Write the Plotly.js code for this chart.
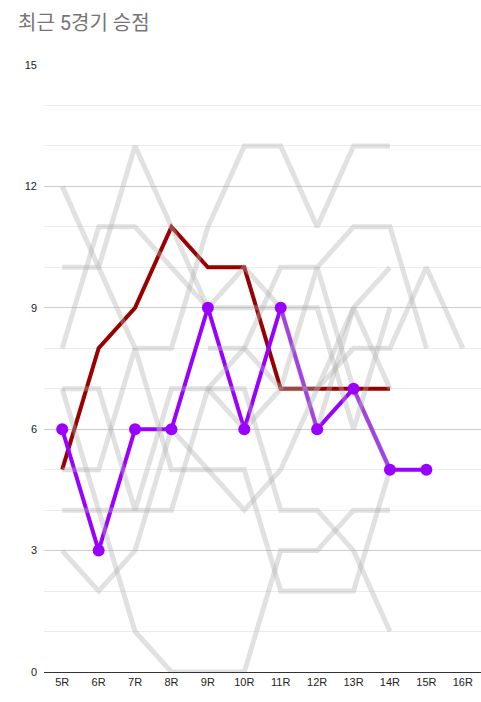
<!DOCTYPE html>
<html><head><meta charset="utf-8">
<script src="https://cdn.plot.ly/plotly-3.0.1.min.js"></script>
<style>html,body{margin:0;padding:0;background:#fff}#chart{width:481px;height:702px}</style>
</head><body><div id="chart"></div>
<script>
const rounds = ['5R','6R','7R','8R','9R','10R','11R','12R','13R','14R','15R','16R'];
const yTicks = [0,3,6,9,12,15];
const redTeam = [5,8,9,11,10,10,7,7,7,7];
const purpleTeam = [6,3,6,6,9,6,9,6,7,5,5];
const gray1 = [12,10,8,8,11,13,13,11,13,13];
const gray2 = [10,10,13,11,9,10,9,6,9,10];
const gray3 = [8,11,11,10,9,9,9,9,6,9];
const gray4 = [7,7,4,7,7,8,10,10,11,11,8];
const gray5 = [5,5,8,5,5,5,2,2,2,5];
const gray6 = [4,4,4,4,7,7,4,4,3,1];
const gray7 = [3,2,3,6,5,4,5,7,9,7];
const gray8 = [7,4,1,0,0,0,3,3,4,4];
const gray9 = [null,null,null,null,8,8,7,10,7,5];
const gray10 = [null,null,null,null,7,6,7,7,8,8,10,8];
const grays = [gray1,gray2,gray3,gray4,gray5,gray6,gray7,gray8,gray9,gray10];

const traces = [];
traces.push({x: rounds.slice(0, redTeam.length), y: redTeam, mode:'lines', line:{color:'#990000', width:4}, hoverinfo:'skip'});
traces.push({x: rounds.slice(0, purpleTeam.length), y: purpleTeam, mode:'lines', line:{color:'#9900ff', width:4}, hoverinfo:'skip'});
grays.forEach(g => traces.push({x: rounds.slice(0, g.length), y: g, mode:'lines', connectgaps:false,
  line:{color:'rgba(175,175,175,0.38)', width:5}, hoverinfo:'skip'}));
traces.push({x: rounds.slice(0, purpleTeam.length), y: purpleTeam, mode:'markers', marker:{color:'#9900ff', size:12}, hoverinfo:'skip'});

const layout = {
  width:481, height:702,
  margin:{l:44, r:0, t:65, b:30},
  paper_bgcolor:'#fff', plot_bgcolor:'#fff',
  showlegend:false,
  title:{text:'최근 5경기 승점', x:18/481, xref:'container', xanchor:'left', y:1-23/702, yref:'container', yanchor:'middle',
    font:{family:'Roboto, "Noto Sans CJK KR", sans-serif', size:20, color:'#757575'}},
  font:{family:'"Liberation Sans", Arial, sans-serif', size:11, color:'#222'},
  xaxis:{type:'category', categoryarray:rounds, categoryorder:'array', range:[-0.5, 11.5], showgrid:false, zeroline:false,
    showline:true, linecolor:'#333', linewidth:1, ticks:'', tickfont:{size:11, color:'#222'}, fixedrange:true},
  yaxis:{range:[0,15], tickvals:yTicks, ticktext:yTicks.map(String), showgrid:true, gridcolor:'#cccccc', gridwidth:1,
    zeroline:false, showline:false, ticks:'', ticklabelstandoff:6, tickfont:{size:11, color:'#222'},
    minor:{dtick:1, showgrid:true, gridcolor:'#ebebeb', gridwidth:1}, fixedrange:true}
};
Plotly.newPlot('chart', traces, layout, {displayModeBar:false, staticPlot:true});
</script></body></html>
